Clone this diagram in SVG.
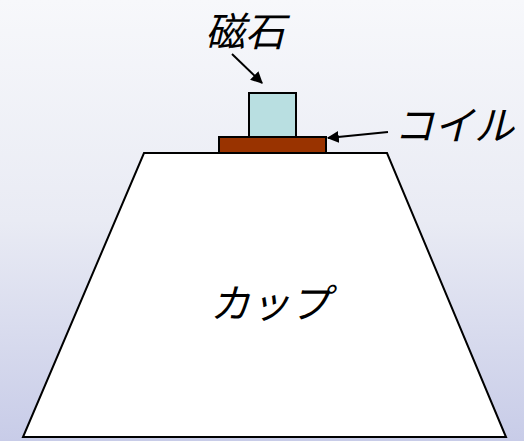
<svg xmlns="http://www.w3.org/2000/svg" width="524" height="441" viewBox="0 0 524 441">
  <defs>
    <linearGradient id="bg" x1="0" y1="0" x2="0" y2="1">
      <stop offset="0" stop-color="#f7f8fb"/>
      <stop offset="0.5" stop-color="#e9ebf4"/>
      <stop offset="1" stop-color="#c8cce8"/>
    </linearGradient>
    <marker id="arrow" viewBox="0 0 10 10" refX="9" refY="5" markerWidth="6" markerHeight="6" orient="auto" markerUnits="strokeWidth">
      <path d="M0,0 L10,5 L0,10 Z" fill="#000"/>
    </marker>
    <style>
      .shape { stroke: #000; stroke-width: 2; }
      .label { font-family: "Noto Sans CJK JP", "Noto Sans", sans-serif; font-style: italic; font-weight: 400; font-size: 40px; fill: #000; text-anchor: middle; }
      .conn { stroke: #000; stroke-width: 2; fill: none; marker-end: url(#arrow); }
    </style>
  </defs>

  <rect width="524" height="441" fill="url(#bg)"/>

  <!-- cup body -->
  <g id="cup">
    <polygon class="shape" points="144,153 387,153 506,437 23,437" fill="#ffffff"/>
    <text class="label" x="270" y="318">カップ</text>
  </g>

  <!-- coil under the magnet -->
  <g id="coil">
    <rect class="shape" x="219" y="137" width="107" height="16" fill="#993300"/>
  </g>

  <!-- magnet -->
  <g id="magnet">
    <rect class="shape" x="249" y="93" width="47" height="44" fill="#b9dfe1"/>
  </g>

  <g id="magnet-label">
    <text class="label" x="245" y="46">磁石</text>
  </g>

  <g id="coil-label">
    <text class="label" x="454" y="140">コイル</text>
  </g>

  <!-- pointers -->
  <g id="connectors">
    <line class="conn" x1="232" y1="54" x2="262" y2="83"/>
    <line class="conn" x1="388" y1="132" x2="328" y2="138"/>
  </g>
</svg>
